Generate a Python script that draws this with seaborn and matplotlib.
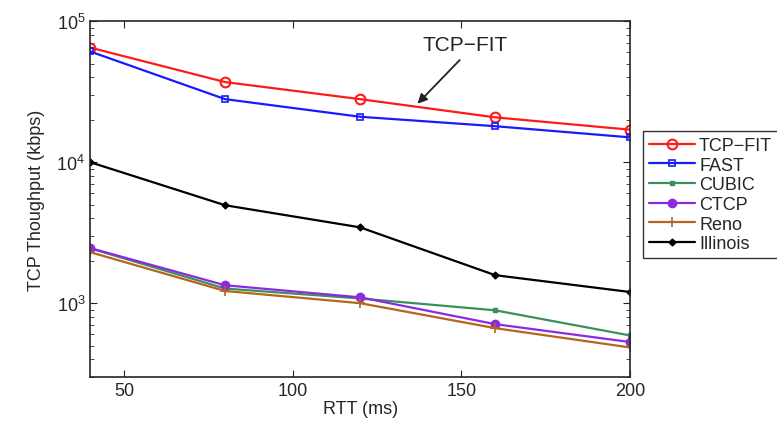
import seaborn as sns
import pandas as pd
import matplotlib.pyplot as plt

rtt = [40, 80, 120, 160, 200]
tcp_fit = [65000, 37000, 28000, 20800, 17000]
fast = [61000, 28000, 21000, 18000, 15000]
cubic = [2450, 1270, 1080, 890, 590]
ctcp = [2460, 1340, 1100, 710, 530]
reno = [2300, 1220, 1000, 665, 485]
illinois = [10000, 4950, 3450, 1580, 1200]

series = {'TCP\u2212FIT': tcp_fit, 'FAST': fast, 'CUBIC': cubic,
          'CTCP': ctcp, 'Reno': reno, 'Illinois': illinois}
styles = {
    'TCP\u2212FIT': dict(color='#ff1a1a', marker='o', mfc='none', ms=7, mew=1.5),
    'FAST': dict(color='#1a1aff', marker='s', mfc='none', ms=5, mew=1.2),
    'CUBIC': dict(color='#3a8f5a', marker='s', mfc='#3a8f5a', ms=3, mew=1),
    'CTCP': dict(color='#8a2be2', marker='o', mfc='#8a2be2', ms=6, mew=1),
    'Reno': dict(color='#b5651d', marker='+', mfc='none', ms=7, mew=1.2),
    'Illinois': dict(color='black', marker='D', mfc='black', ms=3.5, mew=1),
}

rows = []
for name, vals in series.items():
    for r, v in zip(rtt, vals):
        rows.append({'RTT': r, 'Throughput': v, 'Protocol': name})
df = pd.DataFrame(rows)

sns.set_style('ticks')
plt.rcParams['font.family'] = ['Liberation Sans', 'DejaVu Sans']

fig = plt.figure(figsize=(7.77, 4.27), dpi=100)
ax = fig.add_axes([0.116, 0.115, 0.695, 0.833])

for name in series:
    st = styles[name]
    sns.lineplot(data=df[df['Protocol'] == name], x='RTT', y='Throughput', ax=ax,
                 color=st['color'], marker=st['marker'], markerfacecolor=st['mfc'],
                 markeredgecolor=st['color'], markersize=st['ms'], markeredgewidth=st['mew'],
                 linewidth=1.6, label=name)

ax.set_yscale('log')
ax.set_xlim(40, 200)
ax.set_ylim(300, 1e5)
ax.set_xticks([50, 100, 150, 200])
ax.tick_params(direction='in', which='both', top=True, right=True, labelsize=13, length=5)
ax.tick_params(which='minor', length=3)
for s in ax.spines.values():
    s.set_visible(True)
    s.set_linewidth(1.2)
ax.set_xlabel('RTT (ms)', fontsize=13, labelpad=1)
ax.set_ylabel('TCP Thoughput (kbps)', fontsize=13, labelpad=8)

ax.text(151, 68000, 'TCP\u2212FIT', fontsize=15, ha='center', va='center', color='#222222')
ax.annotate('', xy=(137, 26000), xytext=(149.5, 53000),
            arrowprops=dict(arrowstyle='-|>', color='#222222', lw=1.3,
                            mutation_scale=14, shrinkA=0, shrinkB=0))

leg = ax.legend(loc='upper left', bbox_to_anchor=(1.024, 0.69), fontsize=13,
                frameon=True, fancybox=False, edgecolor='black', handlelength=2.6,
                borderpad=0.3, labelspacing=0.15, handletextpad=0.2, borderaxespad=0)
leg.get_frame().set_linewidth(1.0)

fig.savefig('out.png', dpi=100)
